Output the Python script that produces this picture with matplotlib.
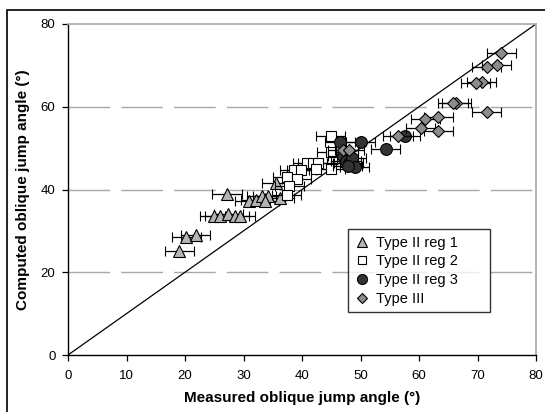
import matplotlib.pyplot as plt
from matplotlib.lines import Line2D
from matplotlib.patches import Rectangle

plt.rcParams['font.family'] = ['Liberation Sans', 'DejaVu Sans']

# Type II reg 1 (triangles)
tri_x = [19.0, 20.2, 21.8, 25.0, 26.0, 27.4, 28.5, 29.4, 27.2, 31.0, 32.1, 33.1, 34.2, 33.6, 36.2, 35.6]
tri_y = [25.2, 28.4, 29.1, 33.5, 33.5, 34.0, 33.5, 33.5, 38.9, 37.2, 37.5, 38.5, 38.4, 37.2, 37.9, 41.6]
# Type II reg 2 (squares)
sq_x = [44.9, 45.0, 40.9, 41.8, 42.8, 38.7, 39.9, 37.5, 39.1, 37.8, 37.4, 44.9, 42.4]
sq_y = [53.0, 49.1, 46.5, 46.5, 46.5, 44.8, 44.8, 43.1, 42.6, 40.8, 38.7, 45.0, 45.0]
# Type II reg 3 (circles)
circ_x = [46.5, 50.0, 47.0, 47.5, 48.0, 48.5, 49.0, 47.8, 54.3, 57.6]
circ_y = [51.4, 51.4, 48.0, 47.0, 46.5, 47.5, 45.5, 45.8, 49.9, 53.0]
# Type III (diamonds)
dia_x = [74.1, 73.3, 71.6, 70.7, 69.7, 66.4, 65.8, 71.6, 63.3, 61.1, 60.3, 63.3, 56.4, 47.0, 48.1]
dia_y = [73.1, 70.2, 69.7, 66.1, 65.8, 61.0, 61.0, 58.7, 57.6, 57.1, 54.9, 54.2, 52.9, 49.6, 49.5]

x_err = 2.5  # measurement uncertainty (deg)
ticks_x = [0, 10, 20, 30, 40, 50, 60, 70, 80]
ticks_y = [0, 20, 40, 60, 80]

fig = plt.figure(figsize=(5.45, 4.12), dpi=100)
ax = fig.add_axes([68/545, 57/412, 468/545, 331/412])

# gridlines
for g in [20, 40, 60]:
    ax.axhline(g, color='#a8a8a8', lw=1, ls=(0, (30, 8)), zorder=0)

# 1:1 line
ax.plot([0, 80], [0, 80], color='black', lw=0.9, zorder=1)

series = [
    (tri_x, tri_y, '^', '#b4b4b4', 8, 'Type II reg 1'),
    (sq_x, sq_y, 's', 'white', 7, 'Type II reg 2'),
    (circ_x, circ_y, 'o', '#333333', 8.5, 'Type II reg 3'),
    (dia_x, dia_y, 'D', '#8c8c8c', 6, 'Type III'),
]
handles = []
for i, (x, y, m, c, ms, lab) in enumerate(series):
    ax.errorbar(x, y, xerr=x_err, fmt=m, ms=ms, mfc=c, mec='black', mew=0.8,
                ecolor='black', elinewidth=0.9, capsize=3.5, capthick=0.9,
                zorder=2 + i)
    handles.append(Line2D([], [], ls='none', marker=m, ms=ms * 0.85, mfc=c,
                          mec='black', mew=0.8, label=lab))

ax.set_xlim(0, 80)
ax.set_ylim(0, 80)
ax.set_xticks(ticks_x)
ax.set_yticks(ticks_y)
ax.tick_params(direction='out', length=4, width=0.9, labelsize=9.5)
ax.tick_params(axis='x', pad=7)
ax.tick_params(axis='y', pad=5)

for s in ['left', 'bottom']:
    ax.spines[s].set_color('black')
    ax.spines[s].set_linewidth(1)
for s in ['top', 'right']:
    ax.spines[s].set_color('#a8a8a8')
    ax.spines[s].set_linewidth(1.2)

ax.set_xlabel('Measured oblique jump angle (°)', fontsize=11, fontweight='bold', labelpad=6)
ax.set_ylabel('Computed oblique jump angle (°)', fontsize=11, fontweight='bold', labelpad=8)

leg = ax.legend(handles=handles, loc='upper left',
                bbox_to_anchor=(0.598, 0.15, 0.304, 0.23), mode='expand',
                fontsize=10.5, frameon=True, fancybox=False, edgecolor='black',
                handlelength=1.0, handletextpad=0.5, labelspacing=0.32,
                borderpad=0.45, borderaxespad=0)
leg.get_frame().set_linewidth(1)
leg.set_zorder(10)

# outer frame of the chart area
fig.patches.append(Rectangle((7/545, -0.1), 1.2, (412 - 10)/412 + 0.1,
                             transform=fig.transFigure, fill=False,
                             edgecolor='black', lw=1.2))

fig.savefig('out.png', dpi=100)
